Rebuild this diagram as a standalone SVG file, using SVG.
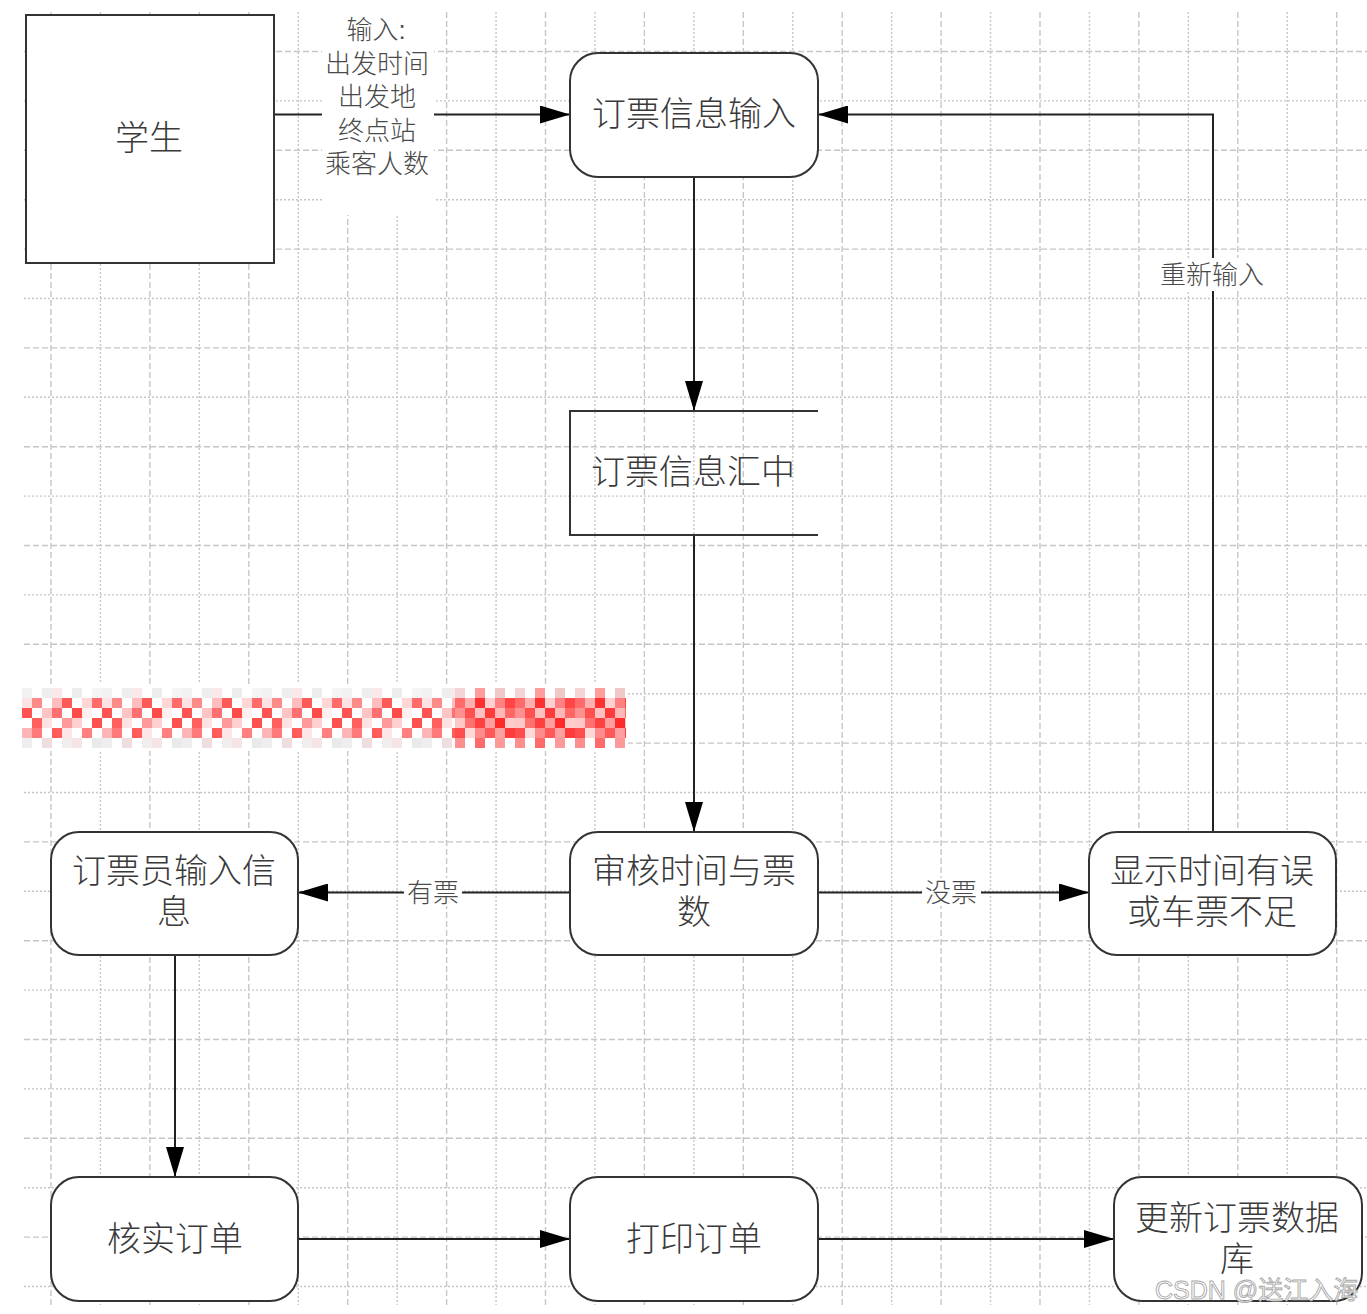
<svg xmlns="http://www.w3.org/2000/svg" width="1367" height="1314" viewBox="0 0 1367 1314">
<style>
.gmaj{stroke:#c6c6c6;stroke-width:1.4;fill:none;stroke-dasharray:6 3}
.gmin{stroke:#c6c6c6;stroke-width:1.4;fill:none;stroke-dasharray:2 2}
.box{fill:#fff;stroke:#333;stroke-width:2}
.ln{stroke:#222;stroke-width:2;fill:none}
.t{font-family:"Liberation Sans","Noto Sans CJK SC","Noto Sans CJK JP",sans-serif;font-weight:300;font-size:34px;fill:#3a3a3a;text-anchor:middle}
.el{font-family:"Liberation Sans","Noto Sans CJK SC","Noto Sans CJK JP",sans-serif;font-weight:300;font-size:26px;fill:#4a4a4a;text-anchor:middle}
.bg{fill:#fff}
</style>
<defs>
<marker id="arr" markerUnits="userSpaceOnUse" markerWidth="30" markerHeight="18" refX="30" refY="9" orient="auto">
<path d="M0,0 L30,9 L0,18 z" fill="#000"/>
</marker>
<pattern id="mosA" patternUnits="userSpaceOnUse" x="22" y="688" width="80" height="60">
<rect x="0" y="0" width="10" height="10" fill="#f2f2f2"/><rect x="20" y="0" width="10" height="10" fill="#eeeeee"/><rect x="30" y="0" width="10" height="10" fill="#fbe9e9"/><rect x="50" y="0" width="10" height="10" fill="#ededed"/><rect x="70" y="0" width="10" height="10" fill="#f5f5f5"/>
<rect x="0" y="10" width="10" height="10" fill="#fde3e3"/><rect x="10" y="10" width="10" height="10" fill="#ff8a8a"/><rect x="30" y="10" width="10" height="10" fill="#ffbdbd"/><rect x="40" y="10" width="10" height="10" fill="#ff5a5a"/><rect x="60" y="10" width="10" height="10" fill="#ffd6d6"/><rect x="70" y="10" width="10" height="10" fill="#ff6b6b"/>
<rect x="0" y="20" width="10" height="10" fill="#ff5252"/><rect x="20" y="20" width="10" height="10" fill="#ffc4c4"/><rect x="30" y="20" width="10" height="10" fill="#ff7070"/><rect x="50" y="20" width="10" height="10" fill="#ff4a4a"/><rect x="60" y="20" width="10" height="10" fill="#fff0f0"/>
<rect x="10" y="30" width="10" height="10" fill="#ff6060"/><rect x="20" y="30" width="10" height="10" fill="#ffe2e2"/><rect x="40" y="30" width="10" height="10" fill="#ff9a9a"/><rect x="50" y="30" width="10" height="10" fill="#ffd0d0"/><rect x="70" y="30" width="10" height="10" fill="#ff5050"/>
<rect x="0" y="40" width="10" height="10" fill="#ffb5b5"/><rect x="10" y="40" width="10" height="10" fill="#ff7a7a"/><rect x="30" y="40" width="10" height="10" fill="#ff5c5c"/><rect x="40" y="40" width="10" height="10" fill="#ffe6e6"/><rect x="60" y="40" width="10" height="10" fill="#ff8080"/>
<rect x="0" y="50" width="10" height="10" fill="#eeeeee"/><rect x="20" y="50" width="10" height="10" fill="#f0dede"/><rect x="40" y="50" width="10" height="10" fill="#efefef"/><rect x="50" y="50" width="10" height="10" fill="#f7e4e4"/><rect x="70" y="50" width="10" height="10" fill="#eaeaea"/>
</pattern>
<pattern id="mosB" patternUnits="userSpaceOnUse" x="455" y="688" width="60" height="60">
<rect x="0" y="0" width="10" height="10" fill="#f4d4d4"/><rect x="20" y="0" width="10" height="10" fill="#ff9c9c"/><rect x="40" y="0" width="10" height="10" fill="#f0c8c8"/>
<rect x="0" y="10" width="10" height="10" fill="#ff6a6a"/><rect x="10" y="10" width="10" height="10" fill="#ffb0b0"/><rect x="20" y="10" width="10" height="10" fill="#ff3030"/><rect x="30" y="10" width="10" height="10" fill="#ffd0d0"/><rect x="40" y="10" width="10" height="10" fill="#ff8080"/><rect x="50" y="10" width="10" height="10" fill="#ff4545"/>
<rect x="0" y="20" width="10" height="10" fill="#ff9090"/><rect x="10" y="20" width="10" height="10" fill="#ff5050"/><rect x="20" y="20" width="10" height="10" fill="#ffc0c0"/><rect x="30" y="20" width="10" height="10" fill="#ff3a3a"/><rect x="40" y="20" width="10" height="10" fill="#ffb8b8"/><rect x="50" y="20" width="10" height="10" fill="#ff6666"/>
<rect x="0" y="30" width="10" height="10" fill="#ffc8c8"/><rect x="10" y="30" width="10" height="10" fill="#ff7070"/><rect x="20" y="30" width="10" height="10" fill="#ff4040"/><rect x="30" y="30" width="10" height="10" fill="#ff9e9e"/><rect x="40" y="30" width="10" height="10" fill="#ff2a2a"/><rect x="50" y="30" width="10" height="10" fill="#ffcccc"/>
<rect x="0" y="40" width="10" height="10" fill="#ff4c4c"/><rect x="10" y="40" width="10" height="10" fill="#ffd8d8"/><rect x="20" y="40" width="10" height="10" fill="#ff8c8c"/><rect x="30" y="40" width="10" height="10" fill="#ff5858"/><rect x="40" y="40" width="10" height="10" fill="#ffa0a0"/><rect x="50" y="40" width="10" height="10" fill="#ff3c3c"/>
<rect x="0" y="50" width="10" height="10" fill="#ff8e8e"/><rect x="20" y="50" width="10" height="10" fill="#ff6a6a"/><rect x="40" y="50" width="10" height="10" fill="#ff9898"/>
</pattern>
</defs>
<rect width="1367" height="1314" fill="#fff"/>
<g id="grid">
<path class="gmaj" d="M51,12V1305M149.9,12V1305M248.8,12V1305M347.7,12V1305M446.6,12V1305M545.5,12V1305M644.4,12V1305M743.3,12V1305M842.2,12V1305M941.1,12V1305M1040,12V1305M1138.9,12V1305M1237.8,12V1305M1336.7,12V1305"/>
<path class="gmin" d="M100.45,12V1305M199.35,12V1305M298.25,12V1305M397.15,12V1305M496.05,12V1305M594.95,12V1305M693.85,12V1305M792.75,12V1305M891.65,12V1305M990.55,12V1305M1089.45,12V1305M1188.35,12V1305M1287.25,12V1305"/>
<path class="gmaj" d="M24,51.5H1367M24,150.3H1367M24,249.1H1367M24,347.9H1367M24,446.7H1367M24,545.5H1367M24,644.3H1367M24,743.1H1367M24,841.9H1367M24,940.7H1367M24,1039.5H1367M24,1138.3H1367M24,1237.1H1367"/>
<path class="gmin" d="M24,100.9H1367M24,199.7H1367M24,298.5H1367M24,397.3H1367M24,496.1H1367M24,594.9H1367M24,693.7H1367M24,792.5H1367M24,891.3H1367M24,990.1H1367M24,1088.9H1367M24,1187.7H1367M24,1286.5H1367"/>
</g>
<g id="mosaic">
<rect x="18" y="684" width="610" height="67" fill="#fff"/>
<rect x="22" y="688" width="433" height="60" fill="url(#mosA)"/>
<rect x="455" y="688" width="171" height="60" fill="url(#mosB)"/>
</g>
<g id="connectors">
<path class="ln" d="M274,114.5H570" marker-end="url(#arr)"/>
<path class="ln" d="M694,177V411" marker-end="url(#arr)"/>
<path class="ln" d="M694,535V832" marker-end="url(#arr)"/>
<path class="ln" d="M570,892.5H298" marker-end="url(#arr)"/>
<path class="ln" d="M818,892.5H1089" marker-end="url(#arr)"/>
<path class="ln" d="M1213,832V114.5H818" marker-end="url(#arr)"/>
<path class="ln" d="M175,955V1177" marker-end="url(#arr)"/>
<path class="ln" d="M298,1239H570" marker-end="url(#arr)"/>
<path class="ln" d="M818,1239H1114" marker-end="url(#arr)"/>
<rect class="bg" x="322" y="12" width="112" height="203"/>
<text class="el"><tspan x="376" y="39">输入:</tspan><tspan x="377" y="73">出发时间</tspan><tspan x="377" y="106">出发地</tspan><tspan x="377" y="140">终点站</tspan><tspan x="377" y="173">乘客人数</tspan></text>
<rect class="bg" x="1155" y="258" width="113" height="33"/>
<text class="el" x="1212" y="284">重新输入</text>
<rect class="bg" x="404" y="878" width="58" height="28"/>
<text class="el" x="433" y="902">有票</text>
<rect class="bg" x="922" y="878" width="59" height="28"/>
<text class="el" x="951" y="902">没票</text>
</g>
<g id="student">
<rect class="box" x="26" y="15" width="248" height="248"/>
<text class="t" x="149" y="150">学生</text>
</g>
<g id="input">
<rect class="box" x="570" y="53" width="248" height="124" rx="28"/>
<text class="t" x="694" y="125.5">订票信息输入</text>
</g>
<g id="store">
<path d="M818,411H570V535H818" fill="none" stroke="#333" stroke-width="2"/>
<text class="t" x="693" y="483.5">订票信息汇中</text>
</g>
<g id="clerk">
<rect class="box" x="51" y="832" width="247" height="123" rx="28"/>
<text class="t"><tspan x="174" y="883">订票员输入信</tspan><tspan x="174" y="924">息</tspan></text>
</g>
<g id="check">
<rect class="box" x="570" y="832" width="248" height="123" rx="28"/>
<text class="t"><tspan x="694" y="883">审核时间与票</tspan><tspan x="694" y="924">数</tspan></text>
</g>
<g id="error">
<rect class="box" x="1089" y="832" width="247" height="123" rx="28"/>
<text class="t"><tspan x="1212" y="883">显示时间有误</tspan><tspan x="1212" y="924">或车票不足</tspan></text>
</g>
<g id="verify">
<rect class="box" x="51" y="1177" width="247" height="124" rx="28"/>
<text class="t" x="175" y="1251">核实订单</text>
</g>
<g id="print">
<rect class="box" x="570" y="1177" width="248" height="124" rx="28"/>
<text class="t" x="694" y="1251">打印订单</text>
</g>
<g id="update">
<rect class="box" x="1114" y="1177" width="248" height="124" rx="28"/>
<text class="t"><tspan x="1237" y="1229.5">更新订票数据</tspan><tspan x="1237" y="1271">库</tspan></text>
</g>
<text x="1155" y="1299" font-family="'Liberation Sans','Noto Sans CJK SC',sans-serif" font-size="25" fill="#fff" stroke="#a8a8a8" stroke-width="0.9">CSDN @送江入海</text>
</svg>
